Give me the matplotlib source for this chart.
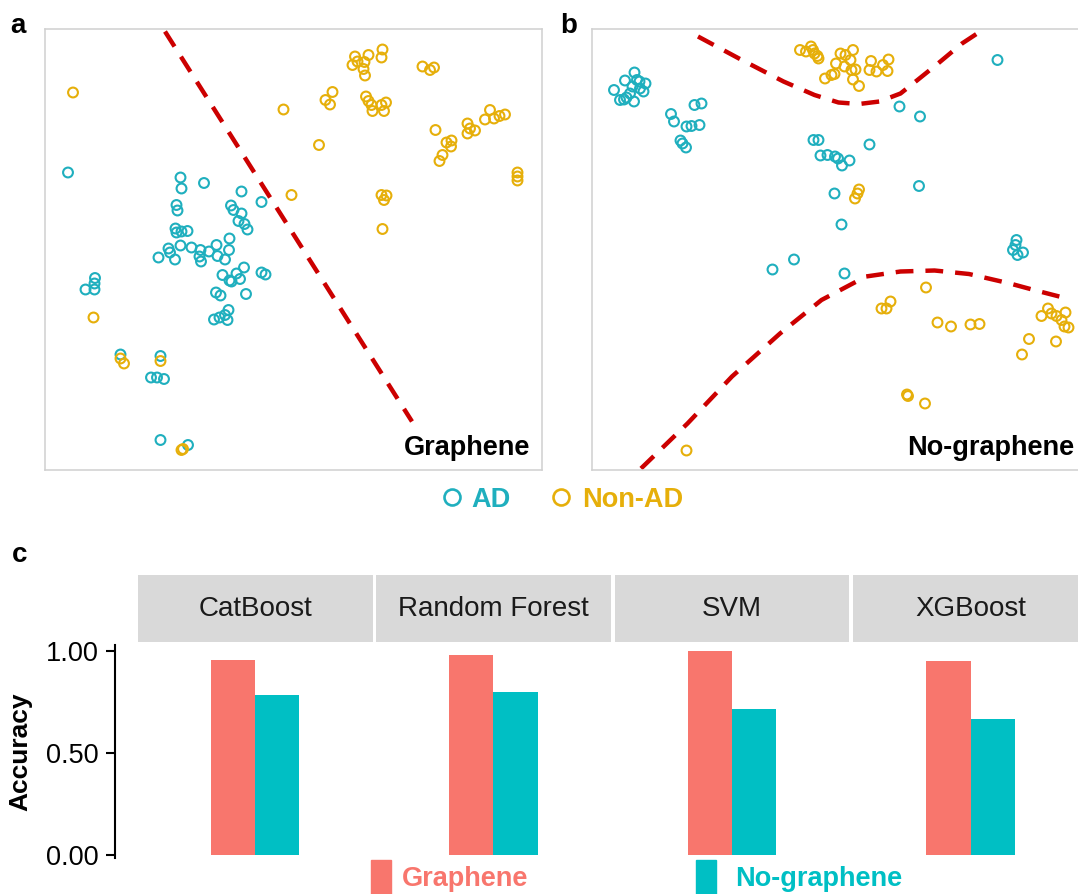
import matplotlib
matplotlib.use("Agg")
import matplotlib.pyplot as plt
from matplotlib.lines import Line2D
from matplotlib.patches import Rectangle

plt.rcParams['font.family'] = ['Liberation Sans', 'DejaVu Sans']

# ---- panel a: Graphene (2-D embedding) ----
gr_ad_x = [27.1, 27.3, 31.8, 39.3, 43.3, 26.3, 26.5, 37.2, 37.7, 39.3, 38.7, 39.9,
           40.5, 26.1, 26.3, 27.3, 28.5, 36.9, 27.1, 24.7, 25.0, 22.7, 26.0, 29.3,
           31.1, 30.9, 31.2, 32.8, 34.3, 34.5, 36.0, 36.8, 39.8, 38.3, 35.5, 36.9,
           37.3, 39.0, 43.3, 44.1, 40.2, 34.2, 35.1, 36.7, 33.8, 34.9, 36.0, 36.5,
           4.6, 10.0, 9.9, 8.1, 9.9, 15.1, 23.1, 21.2, 22.4, 23.8, 23.1, 28.6]
gr_ad_y = [58.5, 56.3, 57.4, 55.7, 53.6, 53.0, 51.9, 52.9, 52.0, 51.3, 49.8, 49.2,
           48.1, 48.3, 47.5, 47.7, 47.8, 46.3, 44.9, 44.3, 43.5, 42.5, 42.1, 44.5,
           44.0, 42.7, 41.7, 43.7, 45.0, 42.8, 42.1, 44.0, 40.5, 39.3, 39.0, 37.9,
           37.7, 38.2, 39.5, 39.1, 35.2, 35.5, 34.9, 32.0, 30.1, 30.5, 31.0, 30.0,
           59.5, 38.4, 37.3, 36.1, 36.1, 23.1, 22.8, 18.5, 18.5, 18.2, 6.0, 5.0]

gr_non_x = [5.6, 9.7, 15.1, 15.8, 23.1, 27.3, 27.6, 47.7, 54.8, 49.3, 57.5, 56.1,
            57.0, 62.0, 62.5, 61.5, 63.9, 64.7, 63.7, 64.0, 67.5, 67.3, 64.2, 64.7,
            65.3, 65.5, 67.3, 68.2, 67.8, 75.5, 77.0, 77.8, 78.1, 80.3, 81.3, 81.2,
            79.5, 78.9, 84.5, 85.0, 86.0, 84.5, 89.0, 88.0, 89.8, 90.9, 92.0, 94.5,
            94.5, 94.5, 67.3, 68.3, 67.8, 67.5]
gr_non_y = [75.5, 30.5, 22.3, 21.3, 21.8, 4.0, 4.2, 72.1, 65.0, 55.0, 75.6, 74.0,
            73.1, 82.7, 81.7, 81.0, 81.6, 83.0, 80.2, 78.9, 84.1, 82.5, 74.7, 73.8,
            73.0, 71.8, 73.0, 73.5, 71.8, 80.7, 80.0, 80.5, 68.0, 65.5, 65.9, 64.7,
            63.0, 61.8, 69.3, 68.3, 67.9, 67.3, 72.0, 70.1, 70.3, 70.8, 71.1, 59.5,
            58.7, 57.9, 55.0, 54.9, 54.0, 48.2]

gr_line_x = [24.0, 73.4]
gr_line_y = [87.7, 9.7]

# ---- panel b: No-graphene ----
ng_ad_x = [4.4, 5.6, 6.6, 6.9, 7.6, 8.5, 8.4, 9.0, 9.6, 10.3, 10.7, 9.5, 6.4, 8.1,
           15.8, 16.4, 17.7, 18.1, 18.8, 18.9, 19.9, 21.5, 20.5, 21.9,
           44.3, 45.3, 45.7, 47.1, 48.6, 49.2, 50.0, 51.5, 55.5, 48.5, 49.9, 61.5,
           65.6, 65.4, 81.1, 40.4, 36.1, 50.5, 84.9, 84.7, 84.2, 85.1, 86.2]
ng_ad_y = [76.0, 74.0, 77.9, 74.5, 75.3, 79.5, 73.7, 78.0, 76.3, 75.7, 77.3, 77.7, 74.1, 76.7,
           71.2, 69.7, 65.9, 65.3, 64.5, 68.7, 68.8, 69.0, 73.0, 73.3,
           66.0, 66.0, 62.9, 63.0, 62.7, 62.3, 60.9, 61.9, 65.1, 55.3, 49.1, 72.7,
           70.7, 56.8, 82.0, 42.1, 40.1, 39.3, 46.0, 45.0, 44.0, 43.0, 43.5]

ng_non_x = [41.6, 42.8, 43.8, 44.5, 45.3, 44.2, 45.1, 46.6, 47.9, 48.5, 48.8, 49.7,
            50.7, 50.5, 51.7, 52.2, 51.9, 52.7, 52.2, 53.4, 55.5, 55.8, 56.9, 58.2,
            59.1, 59.3, 53.4, 53.1, 52.6, 66.8, 57.9, 58.9, 59.7, 69.1, 71.8, 75.7,
            77.5, 63.0, 63.2, 66.6, 18.9, 89.9, 91.2, 91.9, 92.9, 94.7, 93.9, 94.5,
            95.3, 87.4, 92.8, 86.0]
ng_non_y = [84.0, 83.7, 84.7, 83.3, 82.3, 84.0, 82.8, 78.3, 79.0, 79.2, 81.3, 83.3,
            83.0, 80.7, 82.0, 84.0, 80.0, 80.1, 78.1, 76.8, 80.0, 81.8, 79.7, 81.0,
            79.8, 82.1, 56.1, 55.3, 54.3, 36.5, 32.3, 32.3, 33.7, 29.5, 28.7, 29.1,
            29.2, 15.1, 14.8, 13.3, 3.9, 30.8, 32.3, 31.3, 30.8, 31.5, 30.0, 28.7,
            28.5, 26.2, 25.7, 23.1]

ng_upper_x = [21.2, 29.4, 38.3, 44.5, 49.3, 53.4, 57.5, 61.7, 65.1, 69.2, 74.0, 78.1]
ng_upper_y = [86.7, 82.3, 77.7, 75.0, 73.5, 73.2, 73.7, 75.3, 78.0, 81.3, 85.3, 88.0]
ng_lower_x = [9.8, 19.1, 28.0, 37.6, 45.9, 54.8, 61.7, 68.5, 75.4, 83.6, 88.4, 95.0]
ng_lower_y = [0.3, 9.3, 18.7, 27.3, 34.0, 38.7, 39.7, 39.9, 39.2, 37.3, 36.0, 34.3]

# ---- panel c: accuracy ----
models = ['CatBoost', 'Random Forest', 'SVM', 'XGBoost']
acc_graphene = [0.956, 0.978, 1.00, 0.949]
acc_nographene = [0.783, 0.799, 0.714, 0.665]
y_ticks = [0.0, 0.5, 1.0]
y_labels = ['0.00', '0.50', '1.00']

AD_COL = '#1FAFBE'
NON_COL = '#E6AF0A'
LINE_COL = '#CC0000'
G_COL = '#F8766D'
NG_COL = '#00BFC4'

W, H = 1078, 894
fig = plt.figure(figsize=(W / 100, H / 100), dpi=100)


def box(l, t, r, b):
    return [l / W, 1 - b / H, (r - l) / W, (b - t) / H]


def scatter_panel(rect, ad_x, ad_y, non_x, non_y, lines):
    ax = fig.add_axes(rect)
    ax.scatter(ad_x, ad_y, s=50, facecolors='none', edgecolors=AD_COL, linewidths=1.5)
    ax.scatter(non_x, non_y, s=50, facecolors='none', edgecolors=NON_COL, linewidths=1.5)
    for lx, ly in lines:
        ax.plot(lx, ly, color=LINE_COL, lw=3.2, dashes=(4.0, 2.7), solid_capstyle='butt')
    ax.set_xlim(0, 99.4)
    ax.set_ylim(0, 88.2)
    ax.set_xticks([])
    ax.set_yticks([])
    for sp in ax.spines.values():
        sp.set_color('#D0D0D0')
        sp.set_linewidth(1.1)
    return ax


ax_a = scatter_panel(box(45, 29, 542, 470), gr_ad_x, gr_ad_y, gr_non_x, gr_non_y,
                     [(gr_line_x, gr_line_y)])
ax_a.text(0.976, 0.034, 'Graphene', transform=ax_a.transAxes, ha='right', va='baseline',
          fontsize=19.5, fontweight='bold')

ax_b = scatter_panel(box(592, 29, 1089, 470), ng_ad_x, ng_ad_y, ng_non_x, ng_non_y,
                     [(ng_upper_x, ng_upper_y), (ng_lower_x, ng_lower_y)])
ax_b.text(0.970, 0.034, 'No-graphene', transform=ax_b.transAxes, ha='right', va='baseline',
          fontsize=19.5, fontweight='bold')

fig.text(10 / W, 1 - 33 / H, 'a', fontsize=20, fontweight='bold', va='baseline')
fig.text(560 / W, 1 - 33 / H, 'b', fontsize=20, fontweight='bold', va='baseline')
fig.text(12 / W, 1 - 562 / H, 'c', fontsize=20, fontweight='bold', va='baseline')

# scatter legend
fig.add_artist(Line2D([452 / W], [1 - 497 / H], marker='o', ms=11.5, mfc='none',
                      mec=AD_COL, mew=1.9, transform=fig.transFigure))
fig.text(471 / W, 1 - 497 / H, 'AD', color=AD_COL, fontsize=19.5, fontweight='bold',
         va='center_baseline')
fig.add_artist(Line2D([561 / W], [1 - 497 / H], marker='o', ms=11.5, mfc='none',
                      mec=NON_COL, mew=1.9, transform=fig.transFigure))
fig.text(582 / W, 1 - 497 / H, 'Non-AD', color=NON_COL, fontsize=19.5, fontweight='bold',
         va='center_baseline')

# facet bar chart
bw = 0.225
for i, m in enumerate(models):
    left = 137.5 + i * 238.5
    right = left + 235
    strip = fig.add_axes(box(left, 575, right, 642))
    strip.set_facecolor('#D9D9D9')
    strip.set_xticks([])
    strip.set_yticks([])
    for sp in strip.spines.values():
        sp.set_visible(False)
    strip.text(0.5, 0.5, m, ha='center', va='center', fontsize=20, color='#1A1A1A',
               transform=strip.transAxes)

    ax = fig.add_axes(box(left, 643, right, 865))
    ax.bar([-bw / 2], [acc_graphene[i]], width=bw, color=G_COL)
    ax.bar([bw / 2], [acc_nographene[i]], width=bw, color=NG_COL)
    ax.set_xlim(-0.6, 0.6)
    ax.set_ylim(-0.049, 1.039)
    ax.set_xticks([])
    ax.patch.set_alpha(0)
    for sp in ax.spines.values():
        sp.set_visible(False)
    if i == 0:
        ax.spines['left'].set_visible(True)
        ax.spines['left'].set_position(('outward', 16.5))
        ax.spines['left'].set_bounds(-0.015, 1.03)
        ax.spines['left'].set_linewidth(1.5)
        ax.set_yticks(y_ticks)
        ax.set_yticklabels(y_labels)
        ax.tick_params(axis='y', length=6.5, width=1.5, pad=5, labelsize=19.5)
    else:
        ax.set_yticks([])

fig.text(20 / W, 1 - 752 / H, 'Accuracy', rotation=90, ha='center', va='center',
         fontsize=19, fontweight='bold')

# bar legend
fig.add_artist(Rectangle((371 / W, 1 - 900 / H), 20 / W, 40 / H, color=G_COL,
                         transform=fig.transFigure))
fig.text(402 / W, 1 - 886 / H, 'Graphene', color=G_COL, fontsize=19.5, fontweight='bold',
         va='baseline')
fig.add_artist(Rectangle((696 / W, 1 - 900 / H), 20 / W, 40 / H, color=NG_COL,
                         transform=fig.transFigure))
fig.text(735 / W, 1 - 886 / H, 'No-graphene', color=NG_COL, fontsize=19.5, fontweight='bold',
         va='baseline')

fig.savefig('out.png', dpi=100)
